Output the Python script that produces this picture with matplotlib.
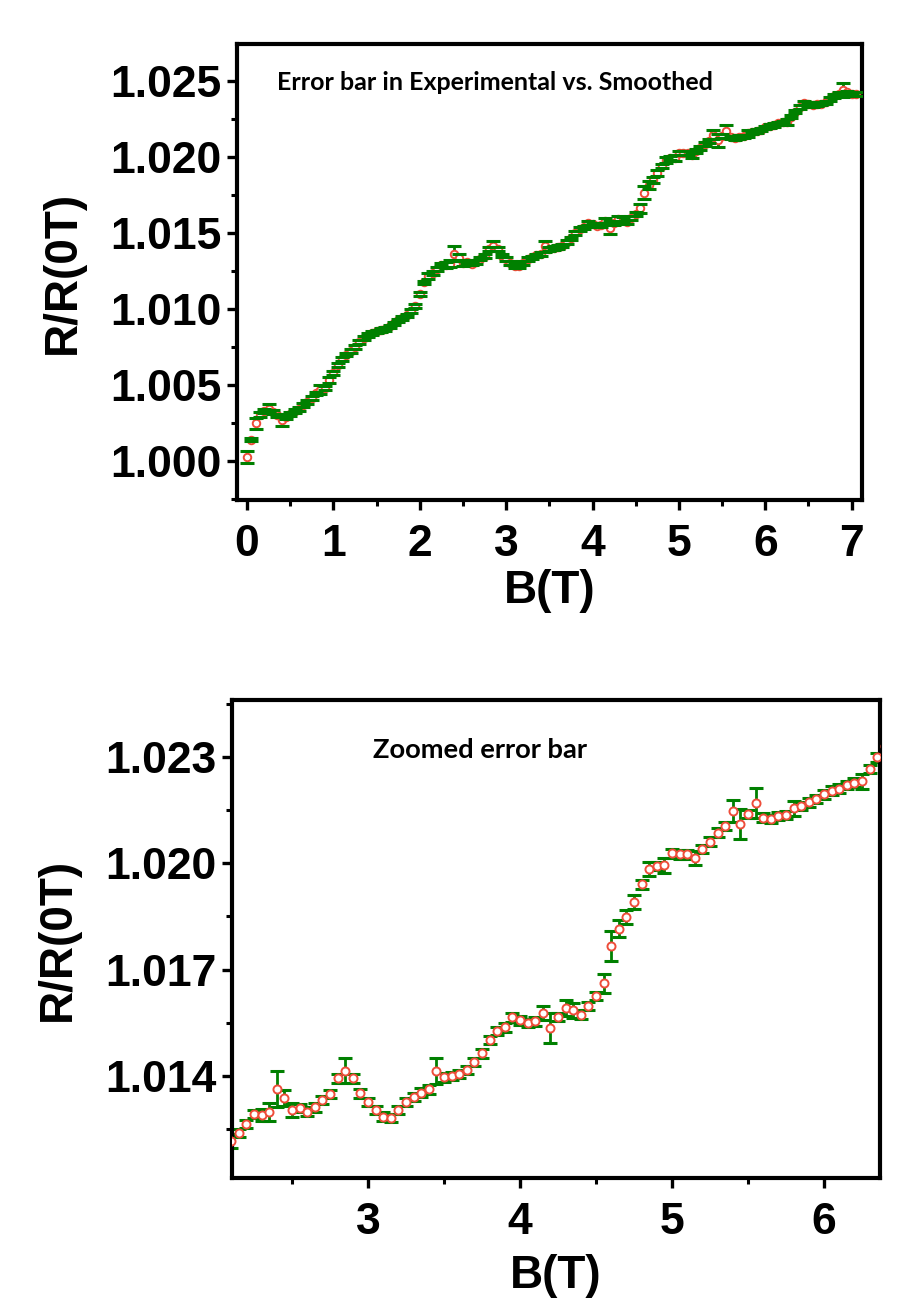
import matplotlib
matplotlib.use("Agg")
import matplotlib.pyplot as plt
from matplotlib.ticker import MultipleLocator, FormatStrFormatter
import numpy as np

# ---------------- data ----------------
B_T = [0.00, 0.05, 0.10, 0.15, 0.20, 0.25, 0.30, 0.35, 0.40, 0.45,
       0.50, 0.55, 0.60, 0.65, 0.70, 0.75, 0.80, 0.85, 0.90, 0.95,
       1.00, 1.05, 1.10, 1.15, 1.20, 1.25, 1.30, 1.35, 1.40, 1.45,
       1.50, 1.55, 1.60, 1.65, 1.70, 1.75, 1.80, 1.85, 1.90, 1.95,
       2.00, 2.05, 2.10, 2.15, 2.20, 2.25, 2.30, 2.35, 2.40, 2.45,
       2.50, 2.55, 2.60, 2.65, 2.70, 2.75, 2.80, 2.85, 2.90, 2.95,
       3.00, 3.05, 3.10, 3.15, 3.20, 3.25, 3.30, 3.35, 3.40, 3.45,
       3.50, 3.55, 3.60, 3.65, 3.70, 3.75, 3.80, 3.85, 3.90, 3.95,
       4.00, 4.05, 4.10, 4.15, 4.20, 4.25, 4.30, 4.35, 4.40, 4.45,
       4.50, 4.55, 4.60, 4.65, 4.70, 4.75, 4.80, 4.85, 4.90, 4.95,
       5.00, 5.05, 5.10, 5.15, 5.20, 5.25, 5.30, 5.35, 5.40, 5.45,
       5.50, 5.55, 5.60, 5.65, 5.70, 5.75, 5.80, 5.85, 5.90, 5.95,
       6.00, 6.05, 6.10, 6.15, 6.20, 6.25, 6.30, 6.35, 6.40, 6.45,
       6.50, 6.55, 6.60, 6.65, 6.70, 6.75, 6.80, 6.85, 6.90, 6.95,
       7.00, 7.05]

R_ratio = [1.00025, 1.00140, 1.00248, 1.00305, 1.00330, 1.00345, 1.00322, 1.00300, 1.00268, 1.00290,
           1.00310, 1.00328, 1.00340, 1.00368, 1.00390, 1.00415, 1.00445, 1.00470, 1.00480, 1.00530,
           1.00580, 1.00630, 1.00672, 1.00700, 1.00725, 1.00752, 1.00782, 1.00810, 1.00830, 1.00842,
           1.00852, 1.00860, 1.00870, 1.00885, 1.00905, 1.00925, 1.00942, 1.00958, 1.00985, 1.01020,
           1.01100, 1.01175, 1.01217, 1.01239, 1.01264, 1.01292, 1.01290, 1.01299, 1.01363, 1.01338,
           1.01304, 1.01309, 1.01299, 1.01311, 1.01332, 1.01349, 1.01393, 1.01415, 1.01393, 1.01351,
           1.01327, 1.01304, 1.01285, 1.01282, 1.01304, 1.01327, 1.01340, 1.01353, 1.01362, 1.01414,
           1.01396, 1.01400, 1.01406, 1.01417, 1.01440, 1.01464, 1.01502, 1.01527, 1.01537, 1.01565,
           1.01557, 1.01549, 1.01554, 1.01577, 1.01535, 1.01566, 1.01592, 1.01585, 1.01573, 1.01598,
           1.01626, 1.01662, 1.01766, 1.01816, 1.01849, 1.01892, 1.01941, 1.01983, 1.01993, 1.01994,
           1.02028, 1.02025, 1.02025, 1.02016, 1.02041, 1.02061, 1.02087, 1.02106, 1.02148, 1.02110,
           1.02139, 1.02170, 1.02129, 1.02125, 1.02134, 1.02136, 1.02155, 1.02162, 1.02172, 1.02181,
           1.02195, 1.02205, 1.02211, 1.02221, 1.02228, 1.02231, 1.02266, 1.02299, 1.02330, 1.02355,
           1.02350, 1.02342, 1.02348, 1.02352, 1.02360, 1.02380, 1.02400, 1.02415, 1.02440, 1.02425,
           1.02418, 1.02415]

# error bar half-lengths in units of 1e-4
err_1e4 = [4.0, 1.2, 3.5, 1.5, 1.2, 3.0, 1.2, 1.2, 4.0, 1.2,
           1.2, 1.2, 1.2, 1.2, 1.2, 1.2, 1.2, 3.0, 1.2, 2.0,
           1.2, 1.2, 1.2, 1.2, 1.2, 1.2, 1.2, 1.2, 1.2, 1.2,
           1.2, 1.2, 1.2, 1.2, 1.2, 1.2, 1.2, 1.2, 1.2, 1.2,
           1.2, 1.2, 2.0, 1.2, 1.2, 1.2, 1.8, 2.5, 5.0, 2.2,
           2.0, 1.2, 1.2, 1.2, 1.2, 1.2, 1.2, 3.5, 1.2, 1.2,
           1.2, 1.2, 1.2, 1.2, 1.2, 1.2, 1.2, 1.2, 1.2, 3.6,
           1.2, 1.2, 1.2, 1.2, 1.2, 1.2, 1.2, 1.2, 1.2, 1.2,
           1.2, 1.2, 1.2, 2.0, 4.2, 1.2, 2.2, 2.2, 1.2, 1.2,
           1.2, 2.7, 4.2, 2.5, 2.0, 2.0, 1.2, 2.0, 1.2, 2.0,
           1.2, 1.2, 1.2, 2.0, 1.2, 1.2, 1.2, 1.2, 3.0, 4.2,
           1.2, 4.2, 1.2, 1.2, 1.2, 1.2, 2.0, 1.2, 1.2, 1.2,
           1.2, 1.2, 1.2, 1.2, 1.2, 2.0, 1.2, 1.2, 1.2, 1.2,
           1.2, 1.2, 1.2, 1.2, 1.2, 1.2, 1.2, 1.2, 4.5, 1.2,
           1.2, 1.2]

top_title = "Error bar in Experimental vs. Smoothed"
bottom_title = "Zoomed error bar"
x_label = "B(T)"
y_label = "R/R(0T)"

# ---------------- styling ----------------
W, H = 920, 1313
DPI = 100
TICK_FONT = "Liberation Sans"
NOTE_FONT = "Lato"
RED = "#ee4d3a"
GREEN = "#008000"

fig = plt.figure(figsize=(W / DPI, H / DPI), dpi=DPI, facecolor="white")


def px_axes(left, top, right, bottom):
    return fig.add_axes([left / W, 1 - bottom / H, (right - left) / W, (bottom - top) / H])


def style(ax, xmaj, xmin, ymaj, ymin, yfmt, xfmt):
    for sp in ax.spines.values():
        sp.set_linewidth(3.0)
    ax.xaxis.set_major_locator(MultipleLocator(xmaj))
    ax.xaxis.set_minor_locator(MultipleLocator(xmin))
    ax.yaxis.set_major_locator(MultipleLocator(ymaj))
    ax.yaxis.set_minor_locator(MultipleLocator(ymin))
    ax.yaxis.set_major_formatter(FormatStrFormatter(yfmt))
    ax.xaxis.set_major_formatter(FormatStrFormatter(xfmt))
    ax.tick_params(which="major", direction="out", length=7, width=2.4, pad=4)
    ax.tick_params(which="minor", direction="out", length=4.5, width=2.2)
    ax.tick_params(axis="x", which="major", pad=10)
    for lab in ax.get_xticklabels() + ax.get_yticklabels():
        lab.set_fontfamily(TICK_FONT)
        lab.set_fontweight("bold")
        lab.set_fontsize(32)


def draw(ax, cap_on_top, msize):
    x = np.array(B_T)
    y = np.array(R_ratio)
    e = np.array(err_1e4) * 1e-4
    _, caps, bars = ax.errorbar(x, y, yerr=e, fmt="none", ecolor=GREEN, elinewidth=2.0,
                                capsize=5.0, capthick=2.2, zorder=2)
    ax.plot(x, y, linestyle="none", marker="o", markersize=msize,
            markerfacecolor="white", markeredgecolor=RED, markeredgewidth=1.4, zorder=3)
    if cap_on_top:
        for c in caps:
            c.set_zorder(4)


# ---------------- top panel ----------------
ax1 = px_axes(237, 44, 862, 500)
draw(ax1, True, 5.4)
ax1.set_xlim(-0.116, 7.12)
ax1.set_ylim(0.99743, 1.02744)
style(ax1, 1, 0.5, 0.005, 0.0025, "%.3f", "%d")
ax1.set_xlabel(x_label, fontfamily=TICK_FONT, fontweight="bold", fontsize=33, labelpad=3)
ax1.set_ylabel(y_label, fontfamily=TICK_FONT, fontweight="bold", fontsize=33, labelpad=18)
ax1.text(277 / W, 1 - 83 / H, top_title, transform=fig.transFigure, ha="left", va="center",
         fontfamily=NOTE_FONT, fontweight="bold", fontsize=18, color="black")

# ---------------- bottom panel ----------------
ax2 = px_axes(232, 700, 880, 1178)
draw(ax2, False, 5.8)
ax2.set_xlim(2.105, 6.368)
ax2.set_ylim(1.01112, 1.02461)
style(ax2, 1, 0.5, 0.003, 0.0015, "%.3f", "%d")
ax2.set_xlabel(x_label, fontfamily=TICK_FONT, fontweight="bold", fontsize=33, labelpad=8)
ax2.set_ylabel(y_label, fontfamily=TICK_FONT, fontweight="bold", fontsize=33, labelpad=18)
ax2.text(373 / W, 1 - 750 / H, bottom_title, transform=fig.transFigure, ha="left", va="center",
         fontfamily=NOTE_FONT, fontweight="bold", fontsize=19.7, color="black")

fig.savefig("out.png", dpi=DPI, facecolor="white")
